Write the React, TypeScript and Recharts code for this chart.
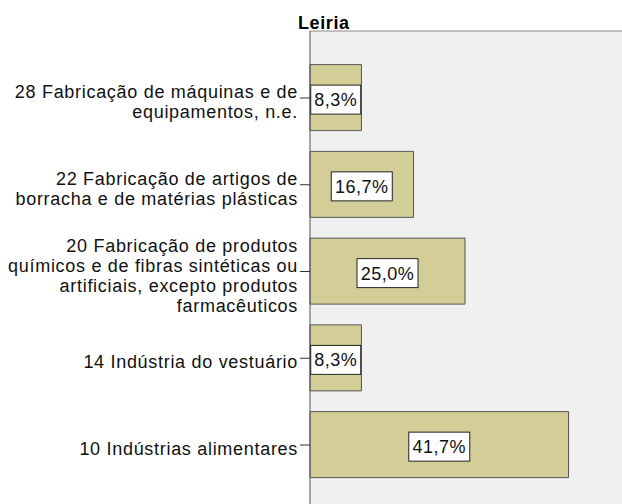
import { BarChart, Bar, XAxis, YAxis, CartesianGrid, LabelList } from 'recharts';

const title = 'Leiria';

const categories = [
  '28 Fabricação de máquinas e de\nequipamentos, n.e.',
  '22 Fabricação de artigos de\nborracha e de matérias plásticas',
  '20 Fabricação de produtos\nquímicos e de fibras sintéticas ou\nartificiais, excepto produtos\nfarmacêuticos',
  '14 Indústria do vestuário',
  '10 Indústrias alimentares',
];

const percents = [8.3, 16.7, 25.0, 8.3, 41.7];

const data = categories.map((name, i) => ({ name, pct: percents[i] }));

const FONT = '"Liberation Sans", Arial, sans-serif';

const fmt = (v: number) => v.toFixed(1).replace('.', ',') + '%';

function CategoryTick(props: any) {
  const { x, y, payload } = props;
  const lines: string[] = String(payload.value).split('\n');
  const first = y + 4 - (lines.length - 1) * 10 + 6;
  return (
    <text
      x={x}
      y={first}
      textAnchor="end"
      fontFamily={FONT}
      fontSize={18}
      letterSpacing={0.7}
      fill="#111"
    >
      {lines.map((l, i) => (
        <tspan key={i} x={x} y={first + i * 20}>
          {l}
        </tspan>
      ))}
    </text>
  );
}

function ValueBox(props: any) {
  const { x, y, width, height, value } = props;
  const label = fmt(Number(value));
  const w = label.length * 11 + 6;
  const cx = x + width / 2;
  const cy = y + height / 2 + 2;
  return (
    <g>
      <rect
        x={cx - w / 2}
        y={cy - 14.5}
        width={w}
        height={29}
        fill="#fff"
        stroke="#222"
        strokeWidth={1}
      />
      <text
        x={cx}
        y={cy + 6.5}
        textAnchor="middle"
        fontFamily={FONT}
        fontSize={18}
        letterSpacing={0.5}
        fill="#111"
      >
        {label}
      </text>
    </g>
  );
}

export default function App() {
  return (
    <div
      style={{
        position: 'absolute',
        top: 0,
        left: 0,
        width: 622,
        height: 504,
        overflow: 'hidden',
        background: '#fff',
      }}
    >
      <div
        style={{
          position: 'absolute',
          left: 298,
          top: 13,
          fontFamily: FONT,
          fontWeight: 'bold',
          fontSize: 18,
          letterSpacing: 0.6,
          color: '#000',
          lineHeight: '20px',
        }}
      >
        {title}
      </div>
      <BarChart
        width={660}
        height={520}
        data={data}
        layout="vertical"
        margin={{ top: 30, right: 9, bottom: 8, left: 0 }}
      >
        <CartesianGrid fill="#f0f0f0" horizontal={false} vertical={false} />
        <XAxis
          type="number"
          orientation="top"
          domain={[0, 55]}
          height={1}
          tick={false}
          tickLine={false}
          axisLine={{ stroke: '#8a8a8a' }}
        />
        <YAxis
          type="category"
          dataKey="name"
          width={310}
          interval={0}
          tickSize={10}
          tickMargin={2}
          tickLine={{ stroke: '#333' }}
          axisLine={{ stroke: '#555' }}
          padding={{ top: 23.6, bottom: 23.6 }}
          tick={<CategoryTick />}
        />
        <Bar
          dataKey="pct"
          barSize={66}
          fill="#d3ce97"
          stroke="#555"
          strokeWidth={1}
          isAnimationActive={false}
        >
          <LabelList dataKey="pct" content={<ValueBox />} />
        </Bar>
      </BarChart>
    </div>
  );
}
